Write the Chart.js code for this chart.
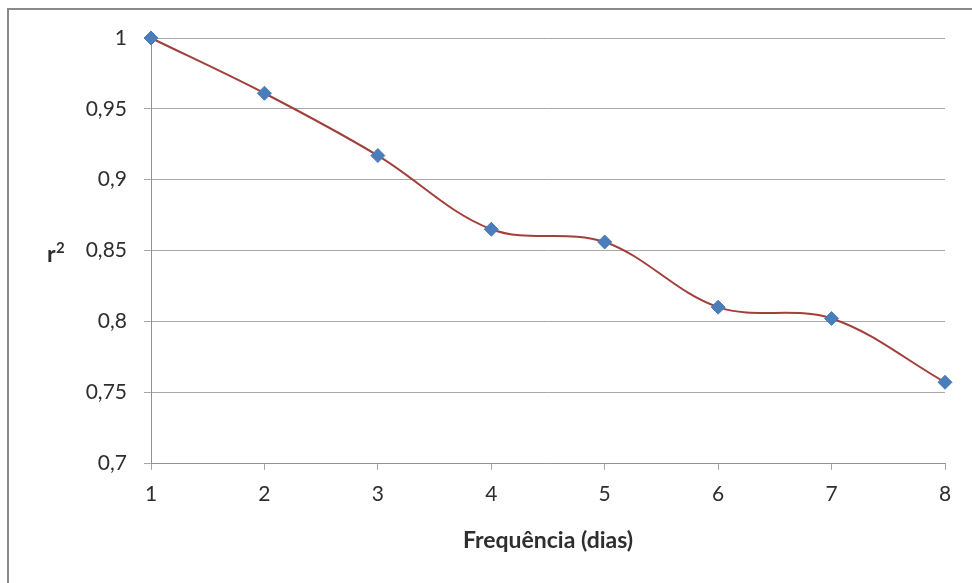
<!DOCTYPE html>
<html>
<head>
<meta charset="utf-8">
<script src="https://cdn.jsdelivr.net/npm/chart.js@4"></script>
<style>
  html, body { margin: 0; padding: 0; background: #fff; }
  #wrap { width: 972px; height: 583px; }
</style>
</head>
<body>
<div id="wrap"><canvas id="chart"></canvas></div>
<script>
const dias = ['1', '2', '3', '4', '5', '6', '7', '8'];
const r2 = [1, 0.961, 0.917, 0.865, 0.856, 0.81, 0.802, 0.757];
const yTicks = ['0,7', '0,75', '0,8', '0,85', '0,9', '0,95', '1'];

const txt = '#2e2e2e';
const gridCol = '#a8a8a8';
const axisCol = '#929292';

// outer frame + r² label
const extras = {
  id: 'extras',
  beforeDraw(chart) {
    const c = chart.ctx;
    c.save();
    c.fillStyle = '#fff';
    c.fillRect(0, 0, chart.width, chart.height);
    c.strokeStyle = '#8a8a8a';
    c.lineWidth = 2;
    c.strokeRect(8, 9, chart.width + 10, chart.height + 10);
    c.restore();
  },
  afterDraw(chart) {
    const c = chart.ctx;
    const y = chart.scales.y.getPixelForValue(0.85);
    c.save();
    c.fillStyle = txt;
    c.textBaseline = 'alphabetic';
    c.font = 'bold 23px Lato';
    c.fillText('r', 47, y + 11);
    c.font = 'bold 15px Lato';
    c.fillText('2', 56, y + 2);
    c.restore();
  }
};

new Chart(document.getElementById('chart'), {
  type: 'line',
  data: {
    labels: dias,
    datasets: [{
      data: r2,
      borderColor: '#a23f3b',
      borderWidth: 2,
      tension: 0.35,
      pointStyle: 'rectRot',
      pointRadius: 7,
      pointBackgroundColor: '#4a7ebb',
      pointBorderColor: '#4a7ebb',
      pointBorderWidth: 1,
      clip: false
    }]
  },
  options: {
    responsive: true,
    maintainAspectRatio: false,
    animation: false,
    layout: { padding: { top: 38, right: 27, left: 0, bottom: 0 } },
    plugins: { legend: { display: false }, tooltip: { enabled: false } },
    scales: {
      x: {
        offset: false,
        afterFit(s) { s.height = 120; },
        grid: { drawOnChartArea: false, drawTicks: true, tickLength: 7, color: gridCol },
        border: { color: axisCol, width: 1 },
        ticks: { color: txt, font: { family: 'Lato', size: 21 }, padding: 12, maxRotation: 0 },
        title: {
          display: true,
          text: 'Frequência (dias)',
          color: txt,
          font: { family: 'Lato', size: 23, weight: 'bold' },
          padding: { top: 0, bottom: 29 }
        }
      },
      y: {
        min: 0.7,
        max: 1,
        afterFit(s) { s.width = 151; },
        afterBuildTicks(s) {
          s.ticks = yTicks.map((t, i) => ({ value: Math.round((0.7 + i * 0.05) * 100) / 100 }));
        },
        grid: { color: gridCol, tickLength: 7 },
        border: { color: axisCol, width: 1 },
        ticks: {
          color: txt,
          font: { family: 'Lato', size: 21 },
          padding: 17,
          callback: (v, i) => yTicks[i]
        }
      }
    }
  },
  plugins: [extras]
});
</script>
</body>
</html>
